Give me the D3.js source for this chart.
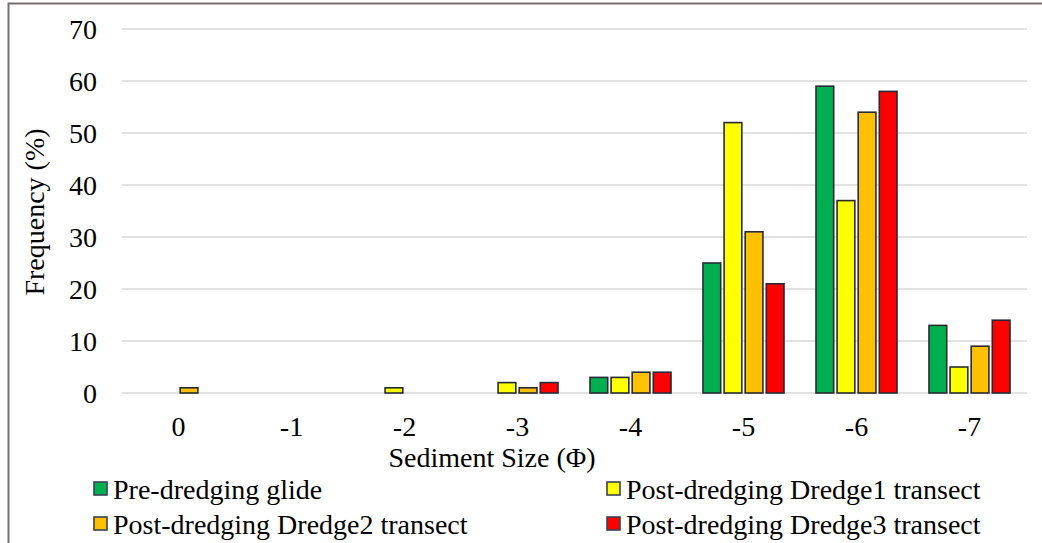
<!DOCTYPE html>
<html>
<head>
<meta charset="utf-8">
<script src="https://cdn.jsdelivr.net/npm/d3@7"></script>
<style>
  html, body { margin: 0; padding: 0; background: #fff; }
  svg { display: block; }
  svg text { font-family: 'Liberation Serif', 'Times New Roman', serif; fill: #000; }
</style>
</head>
<body>
<svg id="chart" width="1042" height="543"></svg>
<script>
// Sediment size classes (phi units) along the x axis
const categories = ["0", "-1", "-2", "-3", "-4", "-5", "-6", "-7"];

// Frequency (%) of each size class per survey
const preDredgingGlide = [0, 0, 0, 0, 3, 25, 59, 13];
const dredge1Transect  = [0, 0, 1, 2, 3, 52, 37, 5];
const dredge2Transect  = [1, 0, 0, 1, 4, 31, 54, 9];
const dredge3Transect  = [0, 0, 0, 2, 4, 21, 58, 14];

const seriesNames = [
  "Pre-dredging glide",
  "Post-dredging Dredge1 transect",
  "Post-dredging Dredge2 transect",
  "Post-dredging Dredge3 transect"
];
const seriesColors = ["#00B050", "#FFFF00", "#FFC000", "#FF0000"];
const yTicks = [0, 10, 20, 30, 40, 50, 60, 70];

const seriesValues = [preDredgingGlide, dredge1Transect, dredge2Transect, dredge3Transect];
const series = seriesNames.map((name, i) => ({ name, color: seriesColors[i], values: seriesValues[i] }));

const FONT = "'Liberation Serif', 'Times New Roman', serif";
const FS = "28px";

const svg = d3.select("#chart");

// Outer frame
svg.append("rect")
  .attr("x", 8.5).attr("y", 3.5)
  .attr("width", 1060).attr("height", 560)
  .attr("fill", "none").attr("stroke", "#767171").attr("stroke-width", 2);

const plot = { left: 122, right: 1026, top: 29, bottom: 393 };

const x = d3.scaleBand()
  .domain(categories)
  .range([plot.left, plot.right])
  .paddingInner(0.283)
  .paddingOuter(0.1415);

const xs = d3.scaleBand()
  .domain(d3.range(series.length))
  .range([0, x.bandwidth()])
  .paddingInner(0.16);

const y = d3.scaleLinear().domain([0, 70]).range([plot.bottom, plot.top]);

// Horizontal gridlines
svg.append("g").selectAll("line")
  .data(yTicks)
  .join("line")
  .attr("x1", plot.left).attr("x2", plot.right + 1)
  .attr("y1", d => y(d)).attr("y2", d => y(d))
  .attr("stroke", "#d9d9d9").attr("stroke-width", 1.5);

// Y axis tick labels
const yAxis = d3.axisLeft(y).tickValues(yTicks).tickSize(0).tickPadding(0);
const yg = svg.append("g").attr("transform", "translate(97,0)").call(yAxis)
  .attr("font-family", null).attr("font-size", null);
yg.select(".domain").remove();
yg.selectAll("text")
  .style("font-family", FONT).style("font-size", FS)
  .attr("fill", "#000").attr("dy", "0.34em");

// X axis category labels
const xAxis = d3.axisBottom(x).tickSize(0).tickPadding(0);
const xg = svg.append("g").attr("transform", "translate(0,416)").call(xAxis)
  .attr("font-family", null).attr("font-size", null);
xg.select(".domain").remove();
xg.selectAll("text")
  .style("font-family", FONT).style("font-size", FS)
  .attr("fill", "#000").attr("dy", "0.71em");

// Bars
const groups = svg.append("g").selectAll("g")
  .data(series)
  .join("g")
  .attr("fill", d => d.color);

groups.selectAll("rect")
  .data((d, si) => d.values.map((v, ci) => ({ v, ci, si })).filter(e => e.v > 0))
  .join("rect")
  .attr("x", d => x(categories[d.ci]) + xs(d.si))
  .attr("width", xs.bandwidth())
  .attr("y", d => y(d.v))
  .attr("height", d => y(0) - y(d.v))
  .attr("stroke", "#262b33").attr("stroke-width", 1.6);

// Axis titles
svg.append("text")
  .attr("x", 492).attr("y", 467)
  .attr("text-anchor", "middle")
  .style("font-family", FONT).style("font-size", FS)
  .text("Sediment Size (\u03A6)");

svg.append("text")
  .attr("transform", "translate(44,212) rotate(-90)")
  .attr("text-anchor", "middle")
  .style("font-family", FONT).style("font-size", FS)
  .text("Frequency (%)");

// Legend (two columns, two rows)
const legendPos = [
  { x: 94, y: 489 }, { x: 607, y: 489 },
  { x: 94, y: 524 }, { x: 607, y: 524 }
];
const legend = svg.append("g").selectAll("g")
  .data(series)
  .join("g")
  .attr("transform", (d, i) => `translate(${legendPos[i].x},${legendPos[i].y})`);

legend.append("rect")
  .attr("x", 0).attr("y", -7)
  .attr("width", 13).attr("height", 13)
  .attr("fill", d => d.color)
  .attr("stroke", "#3b4250").attr("stroke-width", 1.6);

legend.append("text")
  .attr("x", 19).attr("y", 0).attr("dy", "0.34em")
  .style("font-family", FONT).style("font-size", FS)
  .text(d => d.name);
</script>
</body>
</html>
